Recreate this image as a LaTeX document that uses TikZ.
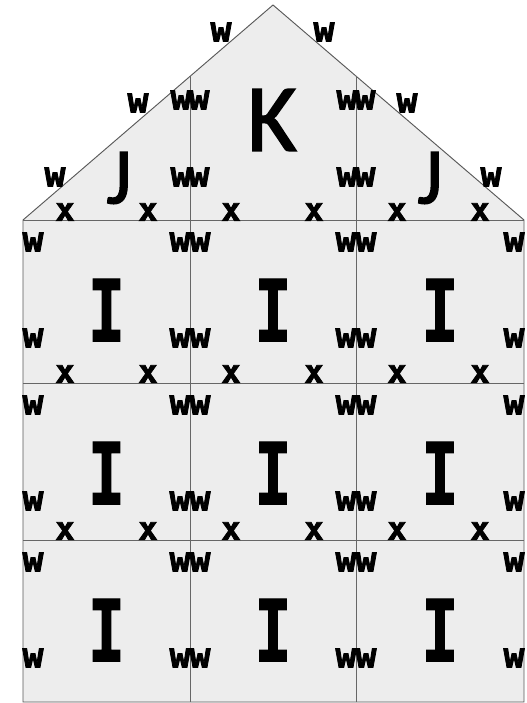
\documentclass[tikz,border=0pt]{standalone}
\usepackage{fontspec}
\newfontfamily\monofont[FakeBold=1.5]{DejaVu Sans Mono Bold}
\newfontfamily\heavyfont[FakeBold=2.5]{DejaVu Sans Mono Bold}
\newfontfamily\capfont[FakeBold=1.5]{Carlito}
\begin{document}
\begin{tikzpicture}[
  x=0.75pt, y=-0.75pt,
  wall/.style={draw=black!65, line width=0.7pt, fill=black!7},
  seam/.style={draw=black!60, line width=0.6pt},
  wlab/.style={font=\heavyfont\fontsize{26}{26}\selectfont, inner sep=0pt},
  xlab/.style={font=\heavyfont\fontsize{24}{24}\selectfont, inner sep=0pt},
  ilab/.style={font=\monofont\fontsize{64}{64}\selectfont, inner sep=0pt, xscale=0.72},
  roof/.style={font=\capfont\fontsize{#1}{#1}\selectfont, inner sep=0pt}
]
\useasboundingbox (0,0) rectangle (526,703);

% house outline
\draw[wall] (23,220) -- (273,5) -- (524,220) -- (524,702) -- (23,702) -- cycle;
\draw[seam] (23,220) -- (524,220);
\draw[seam] (23,383) -- (524,383);
\draw[seam] (23,540) -- (524,540);
\draw[seam] (190,76) -- (190,702);
\draw[seam] (356,76) -- (356,702);

% roof
\node[roof=72] (k) at (272,120) {K};
\node[roof=60] (jl) at (119,178) {J};
\node[roof=60] (jr) at (430,178) {J};
\foreach \px/\py [count=\n] in {55/177, 138/103, 221/32, 324/32, 407/103, 491/177,
    181/100, 199/100, 181/177, 199/177, 347/100, 365/100, 347/177, 365/177}
  \node[wlab] (rw\n) at (\px,\py) {w};
\foreach \px [count=\n] in {65,148,231,314,397,480}
  \node[xlab] (rx\n) at (\px,212) {x};

% wall cells
\foreach \l/\r [count=\c] in {23/190, 190/356, 356/524}
  \foreach \t/\b [count=\rr] in {220/383, 383/540, 540/702} {
    \node[ilab] (i\c\rr) at ({(\l+\r)/2},\t+90) {I};
    \node[wlab] (wa\c\rr) at (\l+10,\t+22) {w};
    \node[wlab] (wb\c\rr) at (\l+10,\t+118) {w};
    \node[wlab] (wc\c\rr) at (\r-10,\t+22) {w};
    \node[wlab] (wd\c\rr) at (\r-10,\t+118) {w};
  }
\foreach \px [count=\n] in {65,148,231,314,397,480} {
  \node[xlab] (xa\n) at (\px,374) {x};
  \node[xlab] (xb\n) at (\px,531) {x};
}
\end{tikzpicture}
\end{document}
